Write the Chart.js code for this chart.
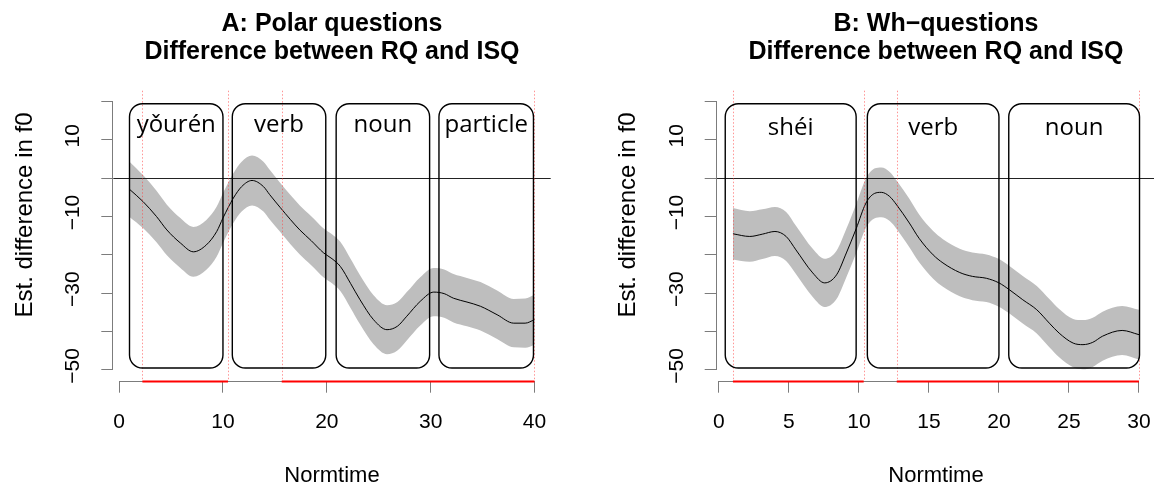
<!DOCTYPE html>
<html><head><meta charset="utf-8">
<script src="https://cdn.jsdelivr.net/npm/chart.js@4/dist/chart.umd.min.js"></script>
<style>
html,body{margin:0;padding:0;background:#fff;width:1154px;height:488px;overflow:hidden}
.panel{position:absolute;top:0;width:577px;height:488px;overflow:hidden;background:#fff}
#pa{left:0}
#pb{left:577px}
</style></head>
<body>
<div class="panel" id="pa"><canvas id="ca" width="577" height="488" style="width:577px;height:488px"></canvas></div>
<div class="panel" id="pb"><canvas id="cb" width="600" height="488" style="width:600px;height:488px"></canvas></div>
<script>
// ---------------- data ----------------
const titleA = ['A: Polar questions', 'Difference between RQ and ISQ'];
const titleB = ['B: Wh\u2212questions', 'Difference between RQ and ISQ'];
const xTitle = 'Normtime';
const yTitle = 'Est. difference in f0';

const timeA = [1, 2.3, 3.6, 4.6, 5.9, 7.15, 8.4, 9.4, 10, 11, 11.8, 12.8, 13.9, 14.5, 15.5, 16.5, 17.4, 18.5, 19.7, 20.5, 21.3, 22.3, 23.2, 24.5, 25.8, 26.8, 27.7, 29, 30.3, 31.3, 32.2, 33.5, 34.8, 36.4, 38, 39.1, 40];
const meanA = [-2.9, -6.1, -10, -13.5, -16.9, -19.2, -17.4, -13.9, -10.4, -5.2, -2.2, -0.6, -2.2, -4.3, -7.6, -10.8, -13.5, -16.3, -19.5, -21, -23, -27.5, -31.7, -36.9, -39.5, -38.6, -36, -32.1, -29.7, -30.1, -31.3, -32.3, -33.4, -35.6, -37.8, -37.8, -36.9];
const ciA   = [7.2, 6.9, 6.7, 6.6, 6.5, 6.5, 6.5, 6.5, 6.5, 6.5, 6.5, 6.5, 6.5, 6.5, 6.4, 6.4, 6.4, 6.4, 6.4, 6.4, 6.4, 6.4, 6.4, 6.4, 6.4, 6.3, 6.3, 6.3, 6.3, 6.3, 6.3, 6.3, 6.3, 6.3, 6.3, 6.4, 6.5];

const timeB = [1, 2.2, 3.1, 4, 4.8, 5.5, 6.7, 7.55, 8.4, 9.1, 9.8, 10.5, 11.1, 11.6, 12.2, 12.7, 13.6, 14.3, 15.3, 16, 17.2, 18.1, 19.1, 20, 20.75, 21.7, 22.7, 23.6, 24.3, 25.3, 26, 26.7, 27.4, 28.8, 30];
const meanB = [-14.5, -15.2, -14.6, -13.9, -15.2, -18.7, -24.7, -27.3, -25.2, -19.5, -13.2, -6.5, -4, -3.7, -4.8, -7, -11.7, -15.7, -20, -22.1, -24.6, -25.6, -26.1, -27.3, -29.1, -31.7, -34.3, -37.8, -40.4, -43, -43.4, -42.8, -41.2, -39.7, -40.8];
const ciB   = [6.7, 6.6, 6.5, 6.4, 6.4, 6.3, 6.3, 6.3, 6.3, 6.3, 6.4, 6.4, 6.5, 6.5, 6.4, 6.3, 6.3, 6.2, 6.2, 6.2, 6.2, 6.2, 6.2, 6.2, 6.2, 6.2, 6.2, 6.3, 6.3, 6.3, 6.4, 6.4, 6.4, 6.4, 6.5];

const xLimA = [1, 40];
const xLimB = [1, 30];
const yLim = [-50, 20];
const xTicksA = [0, 10, 20, 30, 40];
const xTicksB = [0, 5, 10, 15, 20, 25, 30];
const yTicks = [20, 10, 0, -10, -20, -30, -40, -50];
const yLabelled = [10, -10, -30, -50];

const wordsA = ['yǒurén', 'verb', 'noun', 'particle'];
const wordStartA = [1, 10.9, 20.9, 30.8];
const wordEndA = [10, 19.9, 29.9, 39.9];
const wordsB = ['shéi', 'verb', 'noun'];
const wordStartB = [0.45, 10.6, 20.7];
const wordEndB = [9.8, 20, 30.04];
const boxTop = 19.4, boxBottom = -49.5;

const sigStartA = [2.24, 15.66];
const sigEndA = [10.49, 40];
const sigStartB = [1, 12.7];
const sigEndB = [10.34, 30];

// ---------------- drawing ----------------
Chart.defaults.font.family = "'Liberation Sans', Arial, sans-serif";
Chart.defaults.color = '#000';
const AXIS_GRAY = '#7c7c7c';
const fmt = v => v < 0 ? '\u2212' + Math.abs(v) : String(v);
const ext = (lim) => { const r = lim[1] - lim[0]; return [lim[0] - 0.04 * r, lim[1] + 0.04 * r]; };

function buildPanel(canvasId, p) {
  const mid = p.time.map((t, i) => ({x: t, y: p.mean[i]}));
  const up = p.time.map((t, i) => ({x: t, y: p.mean[i] + p.ci[i]}));
  const lo = p.time.map((t, i) => ({x: t, y: p.mean[i] - p.ci[i]}));
  const xr = ext(p.xLim), yr = ext(yLim);

  const decor = {
    id: 'decor' + canvasId,
    afterDatasetsDraw(chart) {
      const {ctx, chartArea: ca, scales: {x, y}} = chart;
      ctx.save();
      // zero reference line
      const y0 = Math.round(y.getPixelForValue(0)) + 0.5;
      ctx.strokeStyle = '#222'; ctx.lineWidth = 1; ctx.setLineDash([]);
      ctx.beginPath(); ctx.moveTo(ca.left, y0); ctx.lineTo(ca.right, y0); ctx.stroke();
      // significance boundaries (dotted red verticals)
      ctx.strokeStyle = 'rgba(255,60,60,0.55)'; ctx.lineWidth = 1; ctx.setLineDash([1.5, 2]);
      [...p.sigStart, ...p.sigEnd].forEach(v => {
        const px = Math.round(x.getPixelForValue(v)) + 0.5;
        ctx.beginPath(); ctx.moveTo(px, ca.top); ctx.lineTo(px, ca.bottom); ctx.stroke();
      });
      ctx.setLineDash([]);
      // word boxes
      ctx.strokeStyle = '#000'; ctx.lineWidth = 1.4;
      ctx.font = "24px 'Open Sans', sans-serif"; ctx.fillStyle = '#000';
      ctx.textAlign = 'center'; ctx.textBaseline = 'alphabetic';
      p.words.forEach((w, i) => {
        const x1 = x.getPixelForValue(p.wStart[i]), x2 = x.getPixelForValue(p.wEnd[i]);
        const y1 = y.getPixelForValue(boxTop), y2 = y.getPixelForValue(boxBottom);
        ctx.beginPath(); ctx.roundRect(x1, y1, x2 - x1, y2 - y1, 13); ctx.stroke();
        ctx.fillText(w, (x1 + x2) / 2, y.getPixelForValue(p.labelY));
      });
      ctx.restore();
    },
    afterDraw(chart) {
      const {ctx, chartArea: ca, scales: {x, y}} = chart;
      ctx.save();
      ctx.strokeStyle = AXIS_GRAY; ctx.lineWidth = 1;
      const xb = Math.round(ca.bottom) + 0.5;
      ctx.beginPath();
      ctx.moveTo(x.getPixelForValue(p.xTicks[0]), xb);
      ctx.lineTo(x.getPixelForValue(p.xTicks[p.xTicks.length - 1]), xb);
      ctx.stroke();
      const yl = Math.round(ca.left) - 0.5;
      ctx.beginPath();
      ctx.moveTo(yl, y.getPixelForValue(yTicks[0]));
      ctx.lineTo(yl, y.getPixelForValue(yTicks[yTicks.length - 1]));
      ctx.stroke();
      // significant stretches on the time axis
      ctx.strokeStyle = '#ff0000'; ctx.lineWidth = 2;
      p.sigStart.forEach((s, i) => {
        ctx.beginPath();
        ctx.moveTo(x.getPixelForValue(s), xb);
        ctx.lineTo(x.getPixelForValue(p.sigEnd[i]), xb);
        ctx.stroke();
      });
      // y axis title
      ctx.fillStyle = '#000'; ctx.font = "24px 'Liberation Sans', Arial, sans-serif";
      ctx.textAlign = 'center'; ctx.textBaseline = 'middle';
      ctx.translate(p.yTitleX, 215); ctx.rotate(-Math.PI / 2);
      ctx.fillText(yTitle, 0, 0);
      ctx.restore();
    }
  };

  return new Chart(document.getElementById(canvasId), {
    type: 'line',
    data: {
      datasets: [
        {data: mid, borderColor: '#000', borderWidth: 1, pointRadius: 0, fill: false, cubicInterpolationMode: 'monotone'},
        {data: up, borderWidth: 0, borderColor: 'rgba(0,0,0,0)', backgroundColor: '#bebebe', pointRadius: 0, fill: '+1', cubicInterpolationMode: 'monotone'},
        {data: lo, borderWidth: 0, borderColor: 'rgba(0,0,0,0)', pointRadius: 0, fill: false, cubicInterpolationMode: 'monotone'}
      ]
    },
    options: {
      responsive: false, animation: false, events: [],
      layout: {padding: {left: 0, right: p.padRight, top: 0, bottom: 0}},
      plugins: {
        legend: {display: false}, tooltip: {enabled: false},
        title: {
          display: true, text: p.title, fullSize: false, color: '#000',
          font: {size: 25, weight: 'bold', lineHeight: 1.132},
          padding: {top: 9.5, bottom: 24.6}
        }
      },
      scales: {
        x: {
          type: 'linear', min: xr[0], max: xr[1],
          afterBuildTicks: s => { s.ticks = p.xTicks.map(v => ({value: v})); },
          afterFit: s => { s.height = 107.3; },
          border: {display: false},
          grid: {drawOnChartArea: false, drawTicks: true, tickLength: 12, color: AXIS_GRAY, lineWidth: 1},
          ticks: {autoSkip: false, maxRotation: 0, padding: 17, font: {size: 21}, color: '#000', callback: v => fmt(v)},
          title: {display: true, text: xTitle, font: {size: 22, lineHeight: 1.1}, padding: {top: 0, bottom: 0}, color: '#000'}
        },
        y: {
          type: 'linear', min: yr[0], max: yr[1],
          afterBuildTicks: s => { s.ticks = yTicks.map(v => ({value: v})); },
          afterFit: s => { s.width = p.yAxisPx; },
          border: {display: false},
          grid: {drawOnChartArea: false, drawTicks: true, tickLength: 12, color: AXIS_GRAY, lineWidth: 1},
          ticks: {autoSkip: false, minRotation: 90, maxRotation: 90, crossAlign: 'center', padding: 10, labelOffset: -4,
                  font: {size: 21}, color: '#000', callback: v => yLabelled.includes(v) ? fmt(v) : ''}
        }
      }
    },
    plugins: [decor]
  });
}

buildPanel('ca', {title: titleA, time: timeA, mean: meanA, ci: ciA, xLim: xLimA, xTicks: xTicksA,
  words: wordsA, wStart: wordStartA, wEnd: wordEndA, sigStart: sigStartA, sigEnd: sigEndA,
  yAxisPx: 113.3, padRight: 26.3, yTitleX: 25, labelY: 12});
buildPanel('cb', {title: titleB, time: timeB, mean: meanB, ci: ciB, xLim: xLimB, xTicks: xTicksB,
  words: wordsB, wStart: wordStartB, wEnd: wordEndB, sigStart: sigStartB, sigEnd: sigEndB,
  yAxisPx: 139.7, padRight: 21.8, yTitleX: 51.4, labelY: 11.3});
</script>
</body></html>
